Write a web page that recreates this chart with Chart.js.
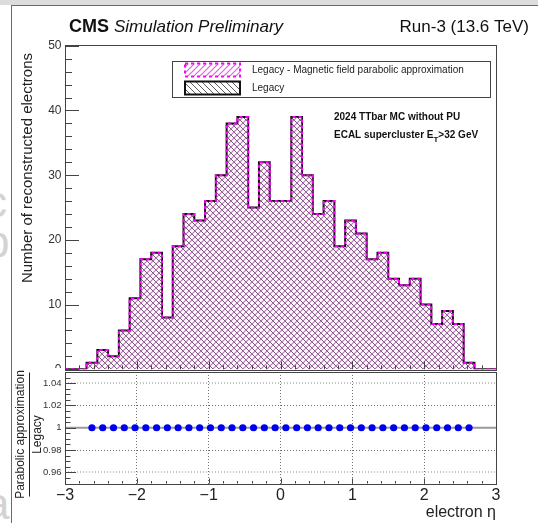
<!DOCTYPE html>
<html>
<head>
<meta charset="utf-8">
<script src="https://cdn.jsdelivr.net/npm/chart.js@4.4.1/dist/chart.umd.min.js"></script>
<style>
  html, body { margin: 0; padding: 0; }
  body { width: 538px; height: 523px; overflow: hidden; position: relative; background: #fff;
         font-family: "Liberation Sans", Arial, sans-serif; }
  #strip { position: absolute; left: 0; top: 0; width: 538px; height: 5px; background: #dcdcdc; }
  .bg { position: absolute; left: -15px; font-size: 44px; line-height: 44px; color: #d3d3d3; }
  #pad { position: absolute; left: 11px; top: 5px; width: 540px; height: 530px;
         border-left: 1px solid #6a6a6a; border-top: 1px solid #6a6a6a; background: #fff; }
  canvas { position: absolute; left: 0; }
  #top { top: 0; }
  #bottom { top: 359px; }
</style>
</head>
<body>
<div id="strip"></div>
<span class="bg" style="top:180px">c</span>
<span class="bg" style="top:220px">p</span>
<span class="bg" style="top:266px">r</span>
<span class="bg" style="top:482px">a</span>
<div id="pad"></div>
<canvas id="top" width="538" height="380"></canvas>
<canvas id="bottom" width="538" height="164"></canvas>
<script>
// electron eta histogram, 40 bins of 0.15 between -3 and 3
const etaMin = -3, etaMax = 3, binWidth = 0.15;
const legacyCounts    = [0, 0, 1, 3, 2, 6, 11, 17, 18, 8, 19, 24, 23, 26, 30, 38, 39, 25, 32, 26,
                         26, 39, 30, 24, 26, 19, 23, 21, 17, 18, 14, 13, 14, 10, 7, 9, 7, 1, 0, 0];
const parabolicCounts = [0, 0, 1, 3, 2, 6, 11, 17, 18, 8, 19, 24, 23, 26, 30, 38, 39, 25, 32, 26,
                         26, 39, 30, 24, 26, 19, 23, 21, 17, 18, 14, 13, 14, 10, 7, 9, 7, 1, 0, 0];
const countTicks = [0, 10, 20, 30, 40, 50];
const etaTicks = [-3, -2, -1, 0, 1, 2, 3];
const ratioTicks = [0.96, 0.98, 1, 1.02, 1.04];

const FONT = '"Liberation Sans", Arial, sans-serif';
Chart.defaults.font.family = FONT;
Chart.defaults.color = '#333';

// left bin edges + closing edge, drawn as a stepped line
function stepPoints(counts) {
  const pts = counts.map((v, i) => ({x: etaMin + i * binWidth, y: v}));
  pts.push({x: etaMax, y: counts[counts.length - 1]});
  return pts;
}

const ratioPoints = [];
legacyCounts.forEach(function (l, i) {
  if (l > 0) ratioPoints.push({x: etaMin + (i + 0.5) * binWidth, y: parabolicCounts[i] / l});
});

// ROOT-like hatch fills: slope > 0 -> "///", slope < 0 -> "\\\"
function hatch(color, slope, lw) {
  const n = 6, c = document.createElement('canvas');
  c.width = c.height = n;
  const g = c.getContext('2d');
  g.strokeStyle = color; g.lineWidth = lw;
  g.beginPath();
  if (slope > 0) {
    g.moveTo(0, n); g.lineTo(n, 0);
    g.moveTo(-1, 1); g.lineTo(1, -1);
    g.moveTo(n - 1, n + 1); g.lineTo(n + 1, n - 1);
  } else {
    g.moveTo(0, 0); g.lineTo(n, n);
    g.moveTo(-1, n - 1); g.lineTo(1, n + 1);
    g.moveTo(n - 1, -1); g.lineTo(n + 1, 1);
  }
  g.stroke();
  return g.createPattern(c, 'repeat');
}

// inward tick marks + frame box, like a ROOT pad
function frameTicks(axes) {
  return {
    id: 'frameTicks',
    afterDatasetsDraw(chart) {
      const ctx = chart.ctx, a = chart.chartArea;
      ctx.save();
      ctx.strokeStyle = '#444'; ctx.lineWidth = 1;
      axes.forEach(function (ax) {
        const s = chart.scales[ax.id];
        for (let k = 0; ; k++) {
          const v = ax.from + k * ax.minor;
          if (v > ax.to + 1e-9) break;
          const major = Math.abs(v / ax.major - Math.round(v / ax.major)) < 1e-6;
          const len = major ? ax.majorLen : ax.minorLen;
          const p = Math.round(s.getPixelForValue(v)) + 0.5;
          ctx.beginPath();
          if (s.isHorizontal()) { ctx.moveTo(p, a.bottom); ctx.lineTo(p, a.bottom - len); }
          else { ctx.moveTo(a.left, p); ctx.lineTo(a.left + len, p); }
          ctx.stroke();
        }
      });
      ctx.strokeRect(Math.round(a.left) + 0.5, Math.round(a.top) + 0.5,
                     Math.round(a.right - a.left), Math.round(a.bottom - a.top));
      ctx.restore();
    }
  };
}

const magentaFill = hatch('rgba(215, 70, 215, 0.85)', 1, 1.2);
const blackFill = hatch('rgba(40, 40, 40, 0.75)', -1, 1);

// top pad: text, legend, axis title
const topDecor = {
  id: 'topDecor',
  afterDraw(chart) {
    const ctx = chart.ctx;
    ctx.save();
    ctx.fillStyle = '#111';
    ctx.textBaseline = 'alphabetic';
    ctx.font = 'bold 18px ' + FONT;
    ctx.fillText('CMS', 69, 32);
    const w = ctx.measureText('CMS').width;
    ctx.font = 'italic 17px ' + FONT;
    ctx.fillText('Simulation Preliminary', 69 + w + 5, 32);
    ctx.font = '17px ' + FONT;
    ctx.textAlign = 'right';
    ctx.fillText('Run-3 (13.6 TeV)', 529, 32);

    // legend box
    ctx.textAlign = 'left';
    ctx.fillStyle = '#fff';
    ctx.fillRect(172.5, 61.5, 318, 36);
    ctx.strokeStyle = '#444'; ctx.lineWidth = 1;
    ctx.strokeRect(172.5, 61.5, 318, 36);
    const rows = [63.5, 81.5];
    chart.data.datasets.forEach(function (ds, i) {
      const y = rows[i];
      ctx.fillStyle = ds.backgroundColor;
      ctx.fillRect(185, y, 55, 13);
      ctx.strokeStyle = ds.borderColor;
      ctx.lineWidth = 2;
      ctx.setLineDash(ds.borderDash || []);
      ctx.strokeRect(185, y, 55, 13);
      ctx.setLineDash([]);
      ctx.fillStyle = '#222';
      ctx.font = '10px ' + FONT;
      ctx.textBaseline = 'middle';
      ctx.fillText(ds.label, 252, y + 7);
    });

    // selection notes
    ctx.fillStyle = '#111';
    ctx.textBaseline = 'alphabetic';
    ctx.font = 'bold 10px ' + FONT;
    ctx.fillText('2024 TTbar MC without PU', 334, 120);
    let x = 334;
    ctx.fillText('ECAL supercluster E', x, 138);
    x += ctx.measureText('ECAL supercluster E').width;
    ctx.font = 'bold 8px ' + FONT;
    ctx.fillText('T', x, 142);
    x += ctx.measureText('T').width;
    ctx.font = 'bold 10px ' + FONT;
    ctx.fillText('>32 GeV', x, 138);

    // y axis title, aligned to the top of the axis
    ctx.translate(27.5, 53);
    ctx.rotate(-Math.PI / 2);
    ctx.textAlign = 'right';
    ctx.textBaseline = 'middle';
    ctx.font = '15px ' + FONT;
    ctx.fillStyle = '#222';
    ctx.fillText('Number of reconstructed electrons', 0, 0);
    ctx.restore();
  }
};

new Chart(document.getElementById('top'), {
  type: 'line',
  data: {
    datasets: [
      {label: 'Legacy - Magnetic field parabolic approximation', data: stepPoints(parabolicCounts),
       stepped: true, borderColor: '#ff00ff', borderWidth: 2, borderDash: [3, 3],
       backgroundColor: magentaFill, fill: 'origin', pointRadius: 0},
      {label: 'Legacy', data: stepPoints(legacyCounts),
       stepped: true, borderColor: '#111', borderWidth: 2,
       backgroundColor: blackFill, fill: 'origin', pointRadius: 0}
    ]
  },
  options: {
    responsive: false, animation: false, events: [],
    layout: {padding: {left: 0, right: 42, top: 44.5, bottom: 8}},
    plugins: {legend: {display: false}, tooltip: {enabled: false}},
    scales: {
      x: {type: 'linear', min: etaMin, max: etaMax, display: false},
      y: {
        min: 0, max: 50.2,
        afterBuildTicks: s => { s.ticks = countTicks.map(v => ({value: v})); },
        afterFit: s => { s.width = 65; },
        grid: {display: false, drawTicks: false},
        border: {display: false},
        ticks: {font: {size: 12}, padding: 3.5, color: '#333'}
      }
    }
  },
  plugins: [frameTicks([
    {id: 'y', from: 0, to: 50, minor: 2, major: 10, majorLen: 14, minorLen: 7},
    {id: 'x', from: -3, to: 3, minor: 0.2, major: 1, majorLen: 8, minorLen: 4}
  ]), topDecor]
});

// ratio pad; its canvas starts at page y 359
const padTop = 359;
const bottomDecor = {
  id: 'bottomDecor',
  beforeDraw(chart) {
    const ctx = chart.ctx;
    ctx.save();
    ctx.fillStyle = '#fff';
    ctx.fillRect(12, 371 - padTop, chart.width - 12, chart.height);
    // the pad edge clips the top pad's "0" label
    ctx.fillRect(12, 368 - padTop, 52, 4);
    ctx.restore();
  },
  afterDraw(chart) {
    const ctx = chart.ctx;
    ctx.save();
    ctx.fillStyle = '#222';
    ctx.strokeStyle = '#222';
    ctx.font = '12px ' + FONT;
    ctx.textAlign = 'center';
    ctx.textBaseline = 'middle';
    const cy = 434.5 - padTop;
    ctx.save();
    ctx.translate(21, cy); ctx.rotate(-Math.PI / 2);
    ctx.fillText('Parabolic approximation', 0, 0);
    ctx.restore();
    ctx.beginPath();
    ctx.moveTo(29.5, cy - 62); ctx.lineTo(29.5, cy + 62);
    ctx.lineWidth = 1; ctx.stroke();
    ctx.translate(37.5, cy); ctx.rotate(-Math.PI / 2);
    ctx.fillText('Legacy', 0, 0);
    ctx.restore();
  }
};

new Chart(document.getElementById('bottom'), {
  type: 'line',
  data: {
    datasets: [
      {data: ratioPoints, showLine: false, pointRadius: 3.6, pointBorderWidth: 0,
       pointBackgroundColor: '#0000ee', pointBorderColor: '#0000ee'},
      {data: [{x: etaMin, y: 1}, {x: etaMax, y: 1}], borderColor: '#9a9a9a', borderWidth: 2, pointRadius: 0}
    ]
  },
  options: {
    responsive: false, animation: false, events: [],
    layout: {padding: {left: 0, right: 42, top: 372 - padTop, bottom: 0}},
    plugins: {legend: {display: false}, tooltip: {enabled: false}},
    scales: {
      x: {
        type: 'linear', min: etaMin, max: etaMax,
        afterBuildTicks: s => { s.ticks = etaTicks.map(v => ({value: v})); },
        afterFit: s => { s.height = 39.5; },
        grid: {drawTicks: false, lineWidth: 1,
               color: c => (c.tick && Math.abs(c.tick.value) > 2.5) ? 'rgba(0,0,0,0)' : '#707070'},
        border: {display: false, dash: [1, 2]},
        ticks: {font: {size: 16}, padding: 2, color: '#222', maxRotation: 0,
                callback: v => v < 0 ? '\u2212' + Math.abs(v) : String(v)},
        title: {display: true, text: 'electron η', align: 'end', font: {size: 16}, color: '#222',
                padding: {top: 0, bottom: 1}}
      },
      y: {
        min: 0.95, max: 1.05,
        afterBuildTicks: s => { s.ticks = ratioTicks.map(v => ({value: v})); },
        afterFit: s => { s.width = 65; },
        grid: {drawTicks: false,
               color: c => (c.tick && Math.abs(c.tick.value - 1) > 0.03) ? '#c4c4c4' : '#707070',
               lineWidth: c => (c.tick && Math.abs(c.tick.value - 1) > 0.03) ? 2 : 1},
        border: {display: false, dash: [1, 2]},
        ticks: {font: {size: 9.5}, padding: 3.5, color: '#333',
                callback: v => String(+v.toFixed(2))}
      }
    }
  },
  plugins: [bottomDecor, frameTicks([
    {id: 'y', from: 0.95, to: 1.05, minor: 0.005, major: 0.02, majorLen: 11, minorLen: 5.5},
    {id: 'x', from: -3, to: 3, minor: 0.2, major: 1, majorLen: 5, minorLen: 2.5}
  ])]
});
</script>
</body>
</html>
